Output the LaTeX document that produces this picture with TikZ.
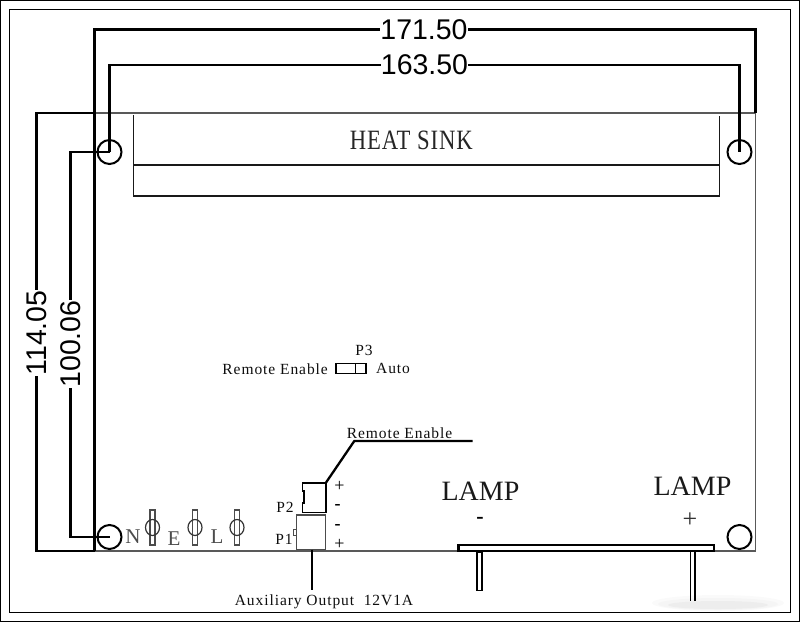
\documentclass[tikz,border=0pt]{standalone}
\usepackage{fontspec}
\setmainfont{Liberation Serif}
\newfontfamily\dimfont{Liberation Sans}
\newfontfamily\heatfont[LetterSpace=4]{Liberation Serif}
\newfontfamily\spacedfont[LetterSpace=6]{Liberation Serif}
\tikzset{
  x=1pt,y=-1pt,
  dimline/.style={line width=2.4pt,black,line join=miter},
  thinline/.style={line width=1.1pt,black!65},
  midline/.style={line width=1.3pt,black!90},
  hole/.style={circle,draw=black,line width=2pt,minimum size=24pt,inner sep=0pt,fill=white},
  dimtext/.style={fill=white,inner sep=0.3pt,font=\dimfont\fontsize{28.5}{29}\selectfont},
  smalltext/.style={inner sep=0pt,text=black!95,font=\spacedfont\fontsize{15.5}{16}\selectfont},
  lamptext/.style={inner sep=0pt,text=black!90,font=\fontsize{28}{28}\selectfont},
  termtext/.style={inner sep=0pt,text=black!70,font=\fontsize{21}{21}\selectfont},
  signtext/.style={inner sep=0pt,font=\fontsize{18}{18}\selectfont},
  slotbar/.style={draw=black!70,line width=1.2pt,fill=white},
  thickbox/.style={draw=black,line width=2.4pt,fill=white},
}
\begin{document}
\begin{tikzpicture}
\useasboundingbox (0,0) rectangle (800,622);
% soft smudge at the lower right of the scan
\fill[black!2] (718,603) ellipse (66pt and 8pt);
\fill[black!4] (718,604) ellipse (60pt and 6pt);
\fill[black!7] (718,605) ellipse (50pt and 4pt);

\draw[line width=1.4pt] (0.7,0.7) rectangle (799.3,621.3);
\draw[line width=1.1pt] (9.5,9.5) rectangle (790.5,612.5);

% board outline
\draw[thinline] (94.5,113) -- (755.5,113) -- (755.5,551) -- (94.5,551) -- cycle;

% named points
\coordinate (blTop) at (94.5,113);
\coordinate (blBot) at (94.5,551);
\coordinate (brTop) at (755.5,113);
\coordinate (hTL) at (109.5,152);
\coordinate (hTR) at (739.5,152);
\coordinate (hBL) at (109.5,537);
\coordinate (hBR) at (739.5,537);

% dimension lines
\draw[dimline] (blTop) -- (94.5,29.5) -- (755.5,29.5) -- (brTop);
\draw[dimline] (blTop) -- (blBot);
\draw[dimline] (hTL) -- (109.5,65) -- (739.5,65) -- (hTR);
\draw[dimline] (blTop) -- (36.5,113) -- (36.5,551) -- (blBot);
\draw[dimline] (hTL) -- (70.5,152) -- (70.5,537) -- (hBL);

% mounting holes
\node[hole,fill=none] (holeTL) at (hTL) {};
\node[hole,fill=none] (holeTR) at (hTR) {};
\node[hole,fill=none] (holeBL) at (hBL) {};
\node[hole] (holeBR) at (hBR) {};

% dimension labels
\node[dimtext] (d1) at (424,30) {171.50};
\node[dimtext] (d2) at (424.5,64.5) {163.50};
\node[dimtext,rotate=90] (d3) at (36.5,333) {114.05};
\node[dimtext,rotate=90] (d4) at (70.5,344) {100.06};

% heat sink
\draw[midline] (133.5,115) -- (133.5,196) -- (719.5,196) -- (719.5,116);
\draw[midline] (133.5,165) -- (719.5,165);
\node[inner sep=0pt,text=black!85,font=\heatfont\fontsize{28}{29}\selectfont] (hs) at (411.3,140) {\scalebox{0.81}[1]{HEAT\ SINK}};

% mains terminals
\foreach \n/\x in {a/152.5,b/195,c/237}{
  \draw[slotbar] (\x-2.5,510) rectangle (\x+2.5,545);
  \draw[draw=black!80,line width=1.2pt] (\x,527.5) ellipse (7pt and 8pt);
}
\node[termtext] (tN) at (133,537) {N};
\node[termtext] (tE) at (174,539) {E};
\node[termtext] (tL) at (217,537) {L};

% P3
\node[smalltext] (p3) at (364,350) {P3};
\node[smalltext,anchor=east] (re1) at (328,369) {Remote Enable};
\node[smalltext,anchor=west] (au) at (376,368) {Auto};
\draw[line width=1.5pt] (336,363.5) rectangle (366,373.5);
\draw[line width=1pt] (355.7,363.5) -- (355.7,373.5);

% P2, P1
\draw[draw=black,line width=1.6pt] (302.5,483) -- (325.7,483) -- (325.7,512.5) -- (302.5,512.5)
  -- (302.5,503) -- (304,503) -- (304,491) -- (302.5,491) -- cycle;
\draw[draw=black!70,line width=1.3pt] (296.3,515) rectangle (325.7,549.5);
\draw[draw=black!70,line width=0.9pt] (293.7,529) rectangle (296.3,535.5);
\draw[line width=2.3pt] (325.7,483) -- (354.3,441) -- (472.5,441);
\draw[line width=2.3pt] (312,549.5) -- (312,590);
\node[smalltext] (re2) at (399.5,433) {Remote Enable};
\node[smalltext] (p2) at (285,507) {P2};
\node[smalltext] (p1) at (284,539) {P1};
\node[signtext] (s1) at (339.5,486.5) {+};
\node[signtext,font=\bfseries\fontsize{18}{18}\selectfont] (s2) at (337.7,506.5) {-};
\node[signtext,font=\bfseries\fontsize{18}{18}\selectfont] (s3) at (337.7,526.5) {-};
\node[signtext] (s4) at (339.5,544) {+};
\node[smalltext] (aux) at (324,601.5) {Auxiliary Output\ \ 12V1A};

% lamp bar
\draw[thickbox] (458.5,545) rectangle (714,550.8);
\draw[line width=1.5pt,fill=white] (477,552) rectangle (482.2,590.5);
\draw[line width=1.8pt,fill=white] (690.5,552) -- (690.5,601) (695,601) -- (695,552);
\node[lamptext] (l1) at (480.5,491.5) {LAMP};
\node[lamptext] (l2) at (692.5,486) {LAMP};
\node[inner sep=0pt,font=\bfseries\fontsize{22}{22}\selectfont] (lm) at (480,520) {-};
\node[inner sep=0pt,text=black!80,font=\fontsize{26}{26}\selectfont] (lp) at (690,520) {+};
\end{tikzpicture}
\end{document}
